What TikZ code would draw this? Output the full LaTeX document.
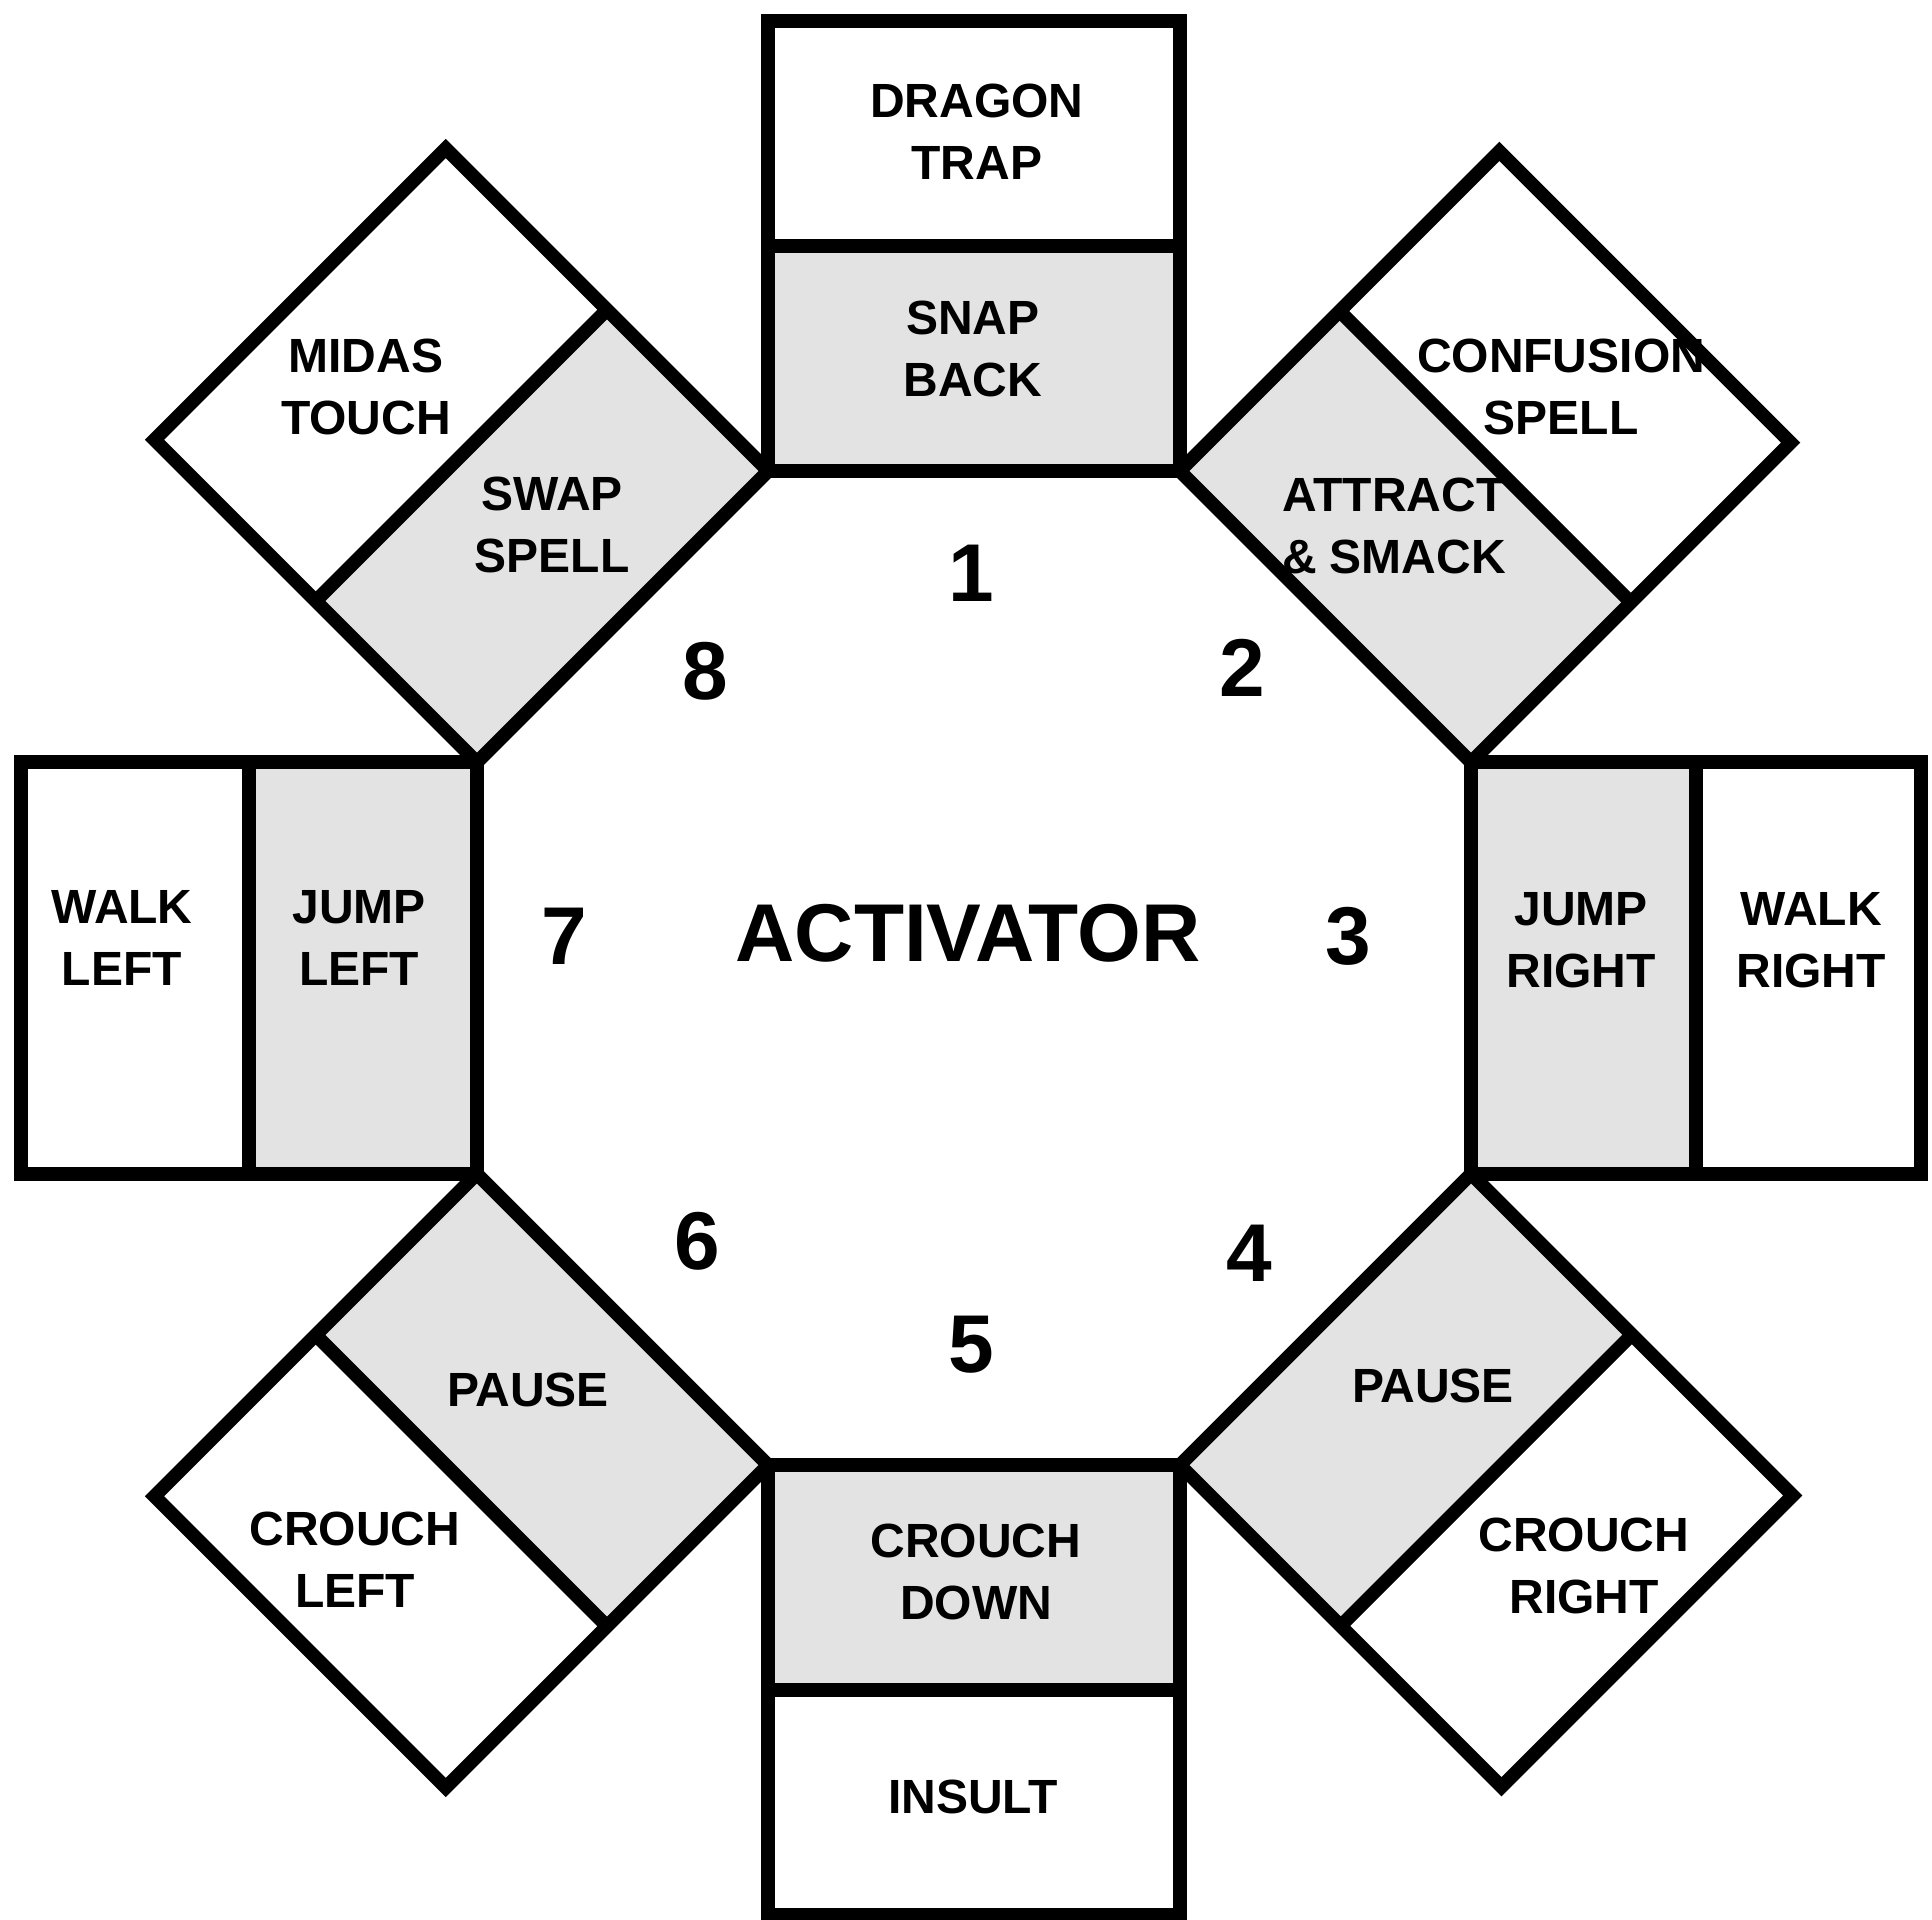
\documentclass[tikz,border=0pt]{standalone}
\usepackage{fontspec}
\setmainfont{Liberation Sans}
\begin{document}
\begin{tikzpicture}[x=0.5pt,y=0.5pt,
  panelline/.style={line width=6.8pt, line join=miter},
  graypart/.style={fill=gray!22},
  whitepart/.style={fill=white},
  lbl/.style={font=\bfseries\fontsize{24}{31}\selectfont, align=center, inner sep=0pt},
  big/.style={font=\bfseries\fontsize{41}{41}\selectfont, inner sep=0pt}]
\useasboundingbox (-974,-951) rectangle (958,968);
\foreach \k/\d in {0/450,1/452,2/450,3/455,4/450,5/456,6/456,7/456}{
  \begin{scope}[rotate=-45*\k]
    \path[graypart] (-205.9,497) rectangle (205.9,497+\d/2);
    \path[whitepart] (-205.9,497+\d/2) rectangle (205.9,497+\d);
    \draw[panelline] (-205.9,497) rectangle (205.9,497+\d);
    \draw[panelline] (-205.9,497+\d/2) -- (205.9,497+\d/2);
  \end{scope}
}
% panel labels
\node[lbl] (dragon) at (3,836) {DRAGON\\TRAP};
\node[lbl] (snap) at (-1,619) {SNAP\\BACK};
\node[lbl] (confusion) at (587,581) {CONFUSION\\SPELL};
\node[lbl] (attract) at (420,442) {ATTRACT\\\& SMACK};
\node[lbl] (jumpr) at (607,28) {JUMP\\RIGHT};
\node[lbl] (walkr) at (837,28) {WALK\\RIGHT};
\node[lbl] (pauser) at (459,-418) {PAUSE};
\node[lbl] (crouchr) at (610,-598) {CROUCH\\RIGHT};
\node[lbl] (crouchd) at (2,-604) {CROUCH\\DOWN};
\node[lbl] (insult) at (-1,-829) {INSULT};
\node[lbl] (pausel) at (-446,-422) {PAUSE};
\node[lbl] (crouchl) at (-619,-592) {CROUCH\\LEFT};
\node[lbl] (walkl) at (-852,30) {WALK\\LEFT};
\node[lbl] (jumpl) at (-615,30) {JUMP\\LEFT};
\node[lbl] (midas) at (-608,581) {MIDAS\\TOUCH};
\node[lbl] (swap) at (-422,443) {SWAP\\SPELL};
% centre
\node[big] (activator) at (-6,35) {ACTIVATOR};
\node[big] (n1) at (-3,395) {1};
\node[big] (n2) at (268,300) {2};
\node[big] (n3) at (374,32) {3};
\node[big] (n4) at (275,-285) {4};
\node[big] (n5) at (-3,-377) {5};
\node[big] (n6) at (-277,-273) {6};
\node[big] (n7) at (-410,32) {7};
\node[big] (n8) at (-269,297) {8};
\end{tikzpicture}
\end{document}
